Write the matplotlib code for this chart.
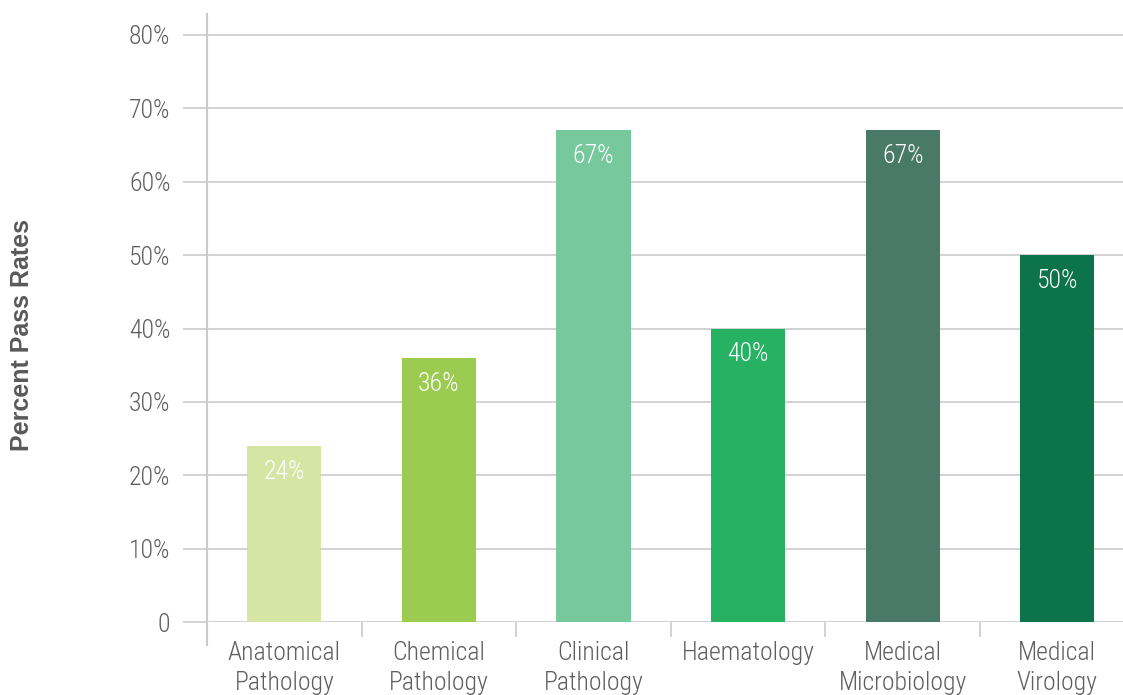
import numpy as np
import matplotlib
matplotlib.use("Agg")
import matplotlib.pyplot as plt
from matplotlib.ticker import FixedLocator, FuncFormatter

# pass rates by specialty
categories = ["Anatomical\nPathology", "Chemical\nPathology", "Clinical\nPathology",
              "Haematology", "Medical\nMicrobiology", "Medical\nVirology"]
pass_rates = [24, 36, 67, 40, 67, 50]
bar_colors = ["#d5e6a4", "#9bcb51", "#77c89d", "#27b163", "#487a67", "#0c734b"]
y_ticks = [0, 10, 20, 30, 40, 50, 60, 70, 80]

plt.rcParams['font.family'] = ['Roboto Condensed', 'Liberation Sans', 'DejaVu Sans']
plt.rcParams['font.weight'] = 300
text_col = '#5f5f5f'
grid_col = '#c9cacf'
fs = 18.5

fig = plt.figure(figsize=(11.23, 6.95), dpi=100)
ax = fig.add_axes([207/1123, 73/695, 927.5/1123, 608/695])

x = np.arange(len(categories))
ax.bar(x, pass_rates, width=0.48, color=bar_colors, zorder=3)

# value labels inside the top of each bar
for xi, v in zip(x, pass_rates):
    ax.annotate(f"{v}%", (xi, v), xytext=(0, -18.5), textcoords='offset points',
                ha='center', va='center', color='white', fontsize=fs, zorder=4)

ax.set_xlim(-0.5, len(categories) - 0.5)
ax.set_ylim(0, 80 * 608 / 587)

for s in ax.spines.values():
    s.set_visible(False)

# y axis: gridlines plus outward ticks in the same grey
ax.yaxis.set_major_locator(FixedLocator(y_ticks))
ax.yaxis.set_major_formatter(FuncFormatter(lambda v, p: "0" if v == 0 else f"{v:.0f}%"))
ax.yaxis.grid(True, color=grid_col, linewidth=1.2, zorder=0)
ax.tick_params(axis='y', length=17.3, width=1.2, color=grid_col, pad=9,
               labelsize=fs, labelcolor=text_col)

# x axis: labels centred on bars, separators at category edges
ax.set_xticks(x)
ax.set_xticklabels(categories)
ax.set_xticks(np.arange(len(categories) + 1) - 0.5, minor=True)
ax.tick_params(axis='x', which='major', length=0, pad=14, labelsize=fs, labelcolor=text_col)
ax.tick_params(axis='x', which='minor', length=11, width=1.2, color=grid_col)
for lbl in ax.get_xticklabels():
    lbl.set_linespacing(1.3)

# vertical axis line running a bit past the baseline
ax.plot([-0.5, -0.5], [-0.0378 * ax.get_ylim()[1], ax.get_ylim()[1]], color=grid_col,
        linewidth=1.5, clip_on=False, zorder=2)

fig.text(22/1123, 1 - 335/695, "Percent Pass Rates", rotation=90, ha='center', va='center',
         fontsize=18, fontweight='bold', color='#595959',
         family=['Liberation Sans', 'DejaVu Sans'])

fig.savefig("out.png", dpi=100)
